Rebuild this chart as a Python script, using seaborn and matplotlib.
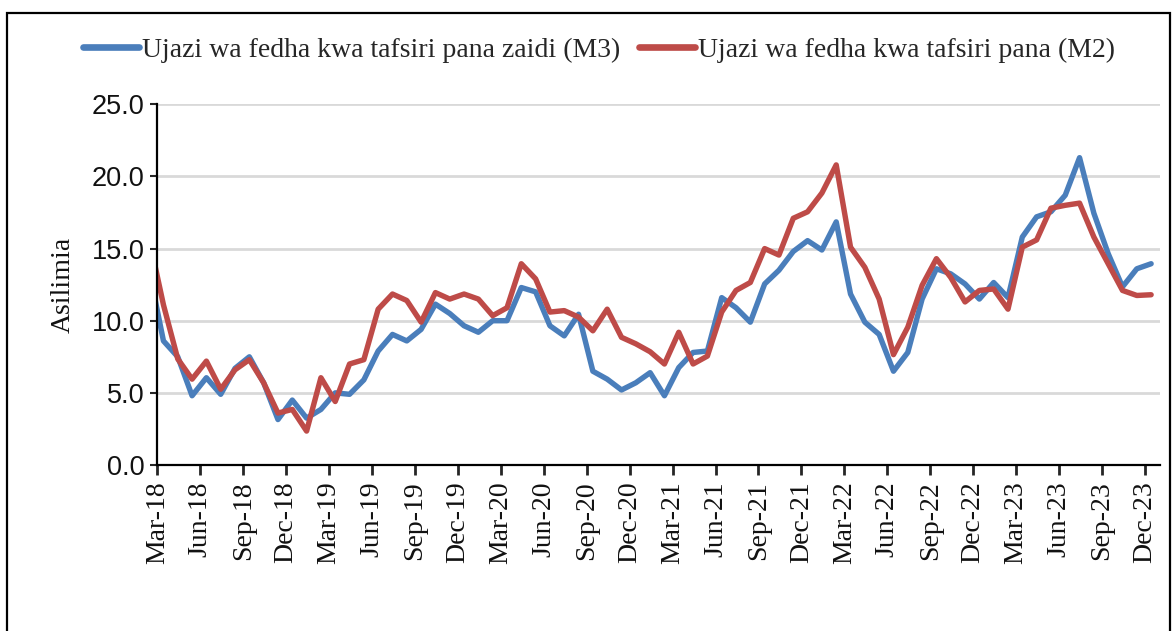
import numpy as np
import pandas as pd
import matplotlib
matplotlib.use("Agg")
import matplotlib.pyplot as plt
import matplotlib.transforms as mtransforms
from matplotlib.patches import Rectangle
from matplotlib.lines import Line2D
import seaborn as sns

# ---------------- data (monthly, Feb-18 .. Dec-23) ----------------
month_labels = pd.date_range("2018-02-01", "2023-12-01", freq="MS").strftime("%b-%y").tolist()

m3_name = "Ujazi wa fedha kwa tafsiri pana zaidi (M3)"
m2_name = "Ujazi wa fedha kwa tafsiri pana (M2)"

m3_values = [13.5,
             8.6, 7.5, 4.8, 6.05, 4.9, 6.7, 7.5, 5.7, 3.15, 4.5,
             3.25, 3.85, 5.0, 4.9, 5.9, 7.9, 9.05, 8.6, 9.4, 11.15,
             10.5, 9.65, 9.2, 10.0, 10.0, 12.3, 12.0, 9.65, 8.95, 10.45,
             6.5, 5.95, 5.2, 5.7, 6.4, 4.8, 6.75, 7.8, 7.9, 11.6,
             10.9, 9.9, 12.55, 13.5, 14.8, 15.55, 14.9, 16.85, 11.85, 9.9,
             9.05, 6.5, 7.8, 11.5, 13.6, 13.25, 12.55, 11.5, 12.65, 11.6,
             15.8, 17.2, 17.55, 18.7, 21.3, 17.45, 14.65, 12.35, 13.6, 13.95]

m2_values = [15.7,
             11.1, 7.35, 5.95, 7.2, 5.25, 6.6, 7.3, 5.7, 3.6, 3.85,
             2.35, 6.05, 4.4, 7.0, 7.3, 10.8, 11.85, 11.4, 9.9, 11.95,
             11.5, 11.85, 11.5, 10.35, 10.9, 13.95, 12.9, 10.6, 10.7, 10.25,
             9.3, 10.8, 8.85, 8.4, 7.85, 7.0, 9.2, 7.0, 7.55, 10.6,
             12.1, 12.65, 15.0, 14.55, 17.1, 17.55, 18.85, 20.8, 15.1, 13.7,
             11.5, 7.65, 9.55, 12.45, 14.3, 13.0, 11.3, 12.1, 12.2, 10.8,
             15.1, 15.6, 17.8, 18.0, 18.15, 15.8, 13.95, 12.1, 11.75, 11.8]

tick_labels = ["Mar-18", "Jun-18", "Sep-18", "Dec-18", "Mar-19", "Jun-19",
               "Sep-19", "Dec-19", "Mar-20", "Jun-20", "Sep-20", "Dec-20",
               "Mar-21", "Jun-21", "Sep-21", "Dec-21", "Mar-22", "Jun-22",
               "Sep-22", "Dec-22", "Mar-23", "Jun-23", "Sep-23", "Dec-23"]

y_label = "Asilimia"

# ---------------- layout ----------------
W, H = 1175, 631
sns.set_style("white")
plt.rcParams["font.family"] = ["Liberation Serif", "DejaVu Serif"]

fig = plt.figure(figsize=(W / 100, H / 100), dpi=100)
ax = fig.add_axes([157.3 / W, 1 - 465 / H, (1160 - 157.3) / W, (465 - 104.3) / H])

# month positions: month index relative to Mar-18, points sit mid-month
n = len(month_labels)
pos = np.arange(n) - 1 + 0.43

df = pd.DataFrame({
    "pos": np.concatenate([pos, pos]),
    "value": m3_values + m2_values,
    "series": [m3_name] * n + [m2_name] * n,
})

blue = "#4A7EBB"
red = "#BE4B48"
palette = {m3_name: blue, m2_name: red}

sns.lineplot(data=df, x="pos", y="value", hue="series", palette=palette,
             hue_order=[m3_name, m2_name], linewidth=3.9, sort=False,
             legend=False, ax=ax)
for ln in ax.lines:
    ln.set_solid_capstyle("round")
    ln.set_solid_joinstyle("round")

ax.set_xlim(0, 70.05)
ax.set_ylim(0, 25)

# y axis
yt = np.arange(0, 25.1, 5)
ax.set_yticks(yt)
ax.set_yticklabels([f"{v:.1f}" for v in yt], family=["Liberation Sans", "DejaVu Sans"],
                   fontsize=19.5, color="#111111")
ax.yaxis.grid(True, color="#d9d9d9", linewidth=2)
ax.set_axisbelow(True)
ax.set_ylabel(y_label, fontsize=20, labelpad=12, color="#111111")

# x axis
xt = np.arange(0, len(tick_labels) * 3, 3)
ax.set_xticks(xt)
ax.set_xticklabels(tick_labels, rotation=90, fontsize=20, color="#111111")
offset = mtransforms.ScaledTranslation(4 / 100, 0, fig.dpi_scale_trans)
for lab in ax.get_xticklabels():
    lab.set_transform(lab.get_transform() + offset)
ax.set_xlabel("")

ax.tick_params(axis="y", direction="out", length=5, width=1.5, pad=4, left=True)
ax.tick_params(axis="x", direction="out", length=7, width=2, pad=5, bottom=True)

for s in ["top", "right"]:
    ax.spines[s].set_visible(False)
for s in ["left", "bottom"]:
    ax.spines[s].set_color("black")
    ax.spines[s].set_linewidth(1.6)

# legend
handles = [Line2D([0], [0], color=blue, lw=4.8, solid_capstyle="round"),
           Line2D([0], [0], color=red, lw=4.8, solid_capstyle="round")]
fig.legend(handles, [m3_name, m2_name], loc="center",
           bbox_to_anchor=(599 / W, 1 - 50 / H), ncol=2, frameon=False,
           fontsize=20, handlelength=2.0, handletextpad=0.1, columnspacing=0.7)

# outer frame of the panel
fig.patches.append(Rectangle((7 / W, -0.05), (1170 - 7) / W, 1.05 - 13 / H,
                             transform=fig.transFigure, fill=False,
                             edgecolor="black", linewidth=1.6))

fig.savefig("out.png", dpi=100)
